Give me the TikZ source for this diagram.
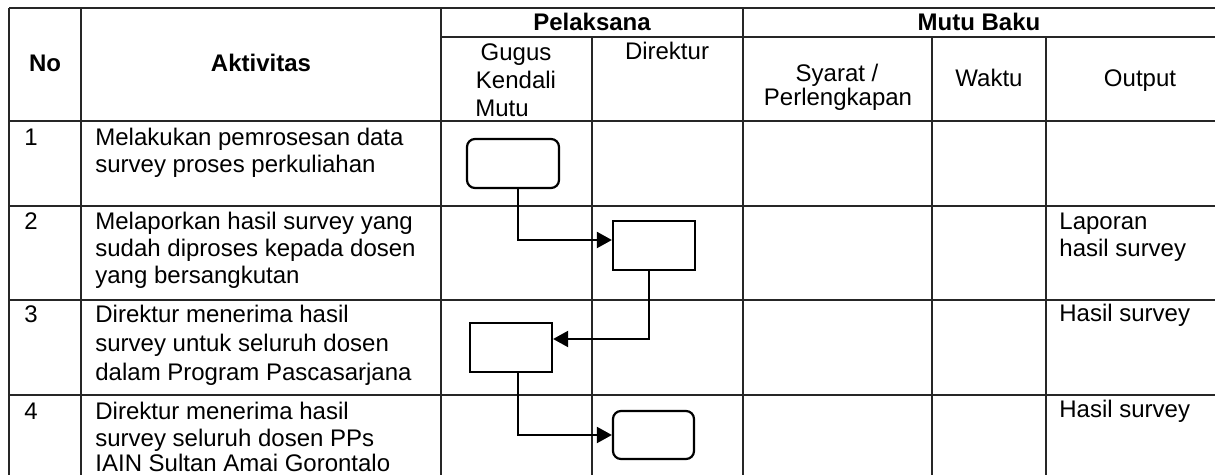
\documentclass[tikz,border=0pt]{standalone}
\usepackage{fontspec}
\setmainfont{Liberation Sans}
\usetikzlibrary{arrows.meta}
\begin{document}
\begin{tikzpicture}[x=0.5pt,y=-0.5pt,
  grid/.style={line width=0.75pt,draw=black!85},
  txt/.style={inner sep=0pt,font=\fontsize{12}{13.5}\selectfont},
  lt/.style={txt,anchor=base west},
  ct/.style={txt,anchor=base},
  hd/.style={txt,anchor=base,font=\fontsize{12}{13.5}\selectfont\bfseries},
  procbox/.style={draw,line width=1.1pt,minimum width=41pt,minimum height=24.5pt,inner sep=0pt},
  termbox/.style={procbox,rounded corners=4pt},
  conn/.style={line width=1pt,-{Triangle[length=7.5pt,width=8pt]}}
]
\useasboundingbox (0,0) rectangle (1215,475);
% table grid
\draw[grid] (9,8) -- (1215,8);
\draw[grid] (441,37) -- (1215,37);
\draw[grid] (9,121) -- (1215,121);
\draw[grid] (9,206) -- (1215,206);
\draw[grid] (9,300) -- (1215,300);
\draw[grid] (9,395) -- (1215,395);
\draw[grid] (9,8) -- (9,476);
\draw[grid] (81,8) -- (81,476);
\draw[grid] (441,8) -- (441,476);
\draw[grid] (743,8) -- (743,476);
\draw[grid] (592,37) -- (592,476);
\draw[grid] (932,37) -- (932,476);
\draw[grid] (1046,37) -- (1046,476);
% headers
\node[hd] (hno) at (45,72) {No};
\node[hd] (hakt) at (261,72) {Aktivitas};
\node[hd] (hpel) at (592,31) {Pelaksana};
\node[hd] (hmb) at (979,31) {Mutu Baku};
\node[ct] (hg1) at (516,61) {Gugus};
\node[ct] (hg2) at (516,89) {Kendali};
\node[lt] (hg3) at (475,117) {Mutu};
\node[ct] (hdir) at (667,60) {Direktur};
\node[ct] (hsy1) at (837,82) {Syarat /};
\node[ct] (hsy2) at (838,106) {Perlengkapan};
\node[ct] (hwak) at (989,87) {Waktu};
\node[ct] (hout) at (1140,87) {Output};
% row 1
\node[lt] (n1) at (24,146) {1};
\node[lt] (a1a) at (95,146) {Melakukan pemrosesan data};
\node[lt] (a1b) at (95,173) {survey proses perkuliahan};
% row 2
\node[lt] (n2) at (24,230) {2};
\node[lt] (a2a) at (95,230) {Melaporkan hasil survey yang};
\node[lt] (a2b) at (95,257) {sudah diproses kepada dosen};
\node[lt] (a2c) at (95,284) {yang bersangkutan};
\node[lt] (o2a) at (1059,230) {Laporan};
\node[lt] (o2b) at (1059,257) {hasil survey};
% row 3
\node[lt] (n3) at (24,323) {3};
\node[lt] (a3a) at (95,323) {Direktur menerima hasil};
\node[lt] (a3b) at (95,352) {survey untuk seluruh dosen};
\node[lt] (a3c) at (95,381) {dalam Program Pascasarjana};
\node[lt] (o3) at (1059,322) {Hasil survey};
% row 4
\node[lt] (n4) at (24,420) {4};
\node[lt] (a4a) at (95,420) {Direktur menerima hasil};
\node[lt] (a4b) at (95,446) {survey seluruh dosen PPs};
\node[lt] (a4c) at (95,472) {IAIN Sultan Amai Gorontalo};
\node[lt] (o4) at (1059,418) {Hasil survey};
% flow boxes
\node[termbox,minimum width=46pt] (b1) at (513,163.5) {};
\node[procbox] (b2) at (654,245.5) {};
\node[procbox] (b3) at (511,347.5) {};
\node[termbox,minimum width=40.5pt,minimum height=24pt] (b4) at (653.5,435) {};
% bend points
\coordinate (k1) at (518,240);
\coordinate (k2) at (649,339);
\coordinate (k3) at (518,435);
\draw[conn] (b1.south -| k1) -- (k1) -- (b2.west |- k1);
\draw[conn] (b2.south -| k2) -- (k2) -- (b3.east |- k2);
\draw[conn] (b3.south -| k3) -- (k3) -- (b4.west |- k3);
\end{tikzpicture}
\end{document}
